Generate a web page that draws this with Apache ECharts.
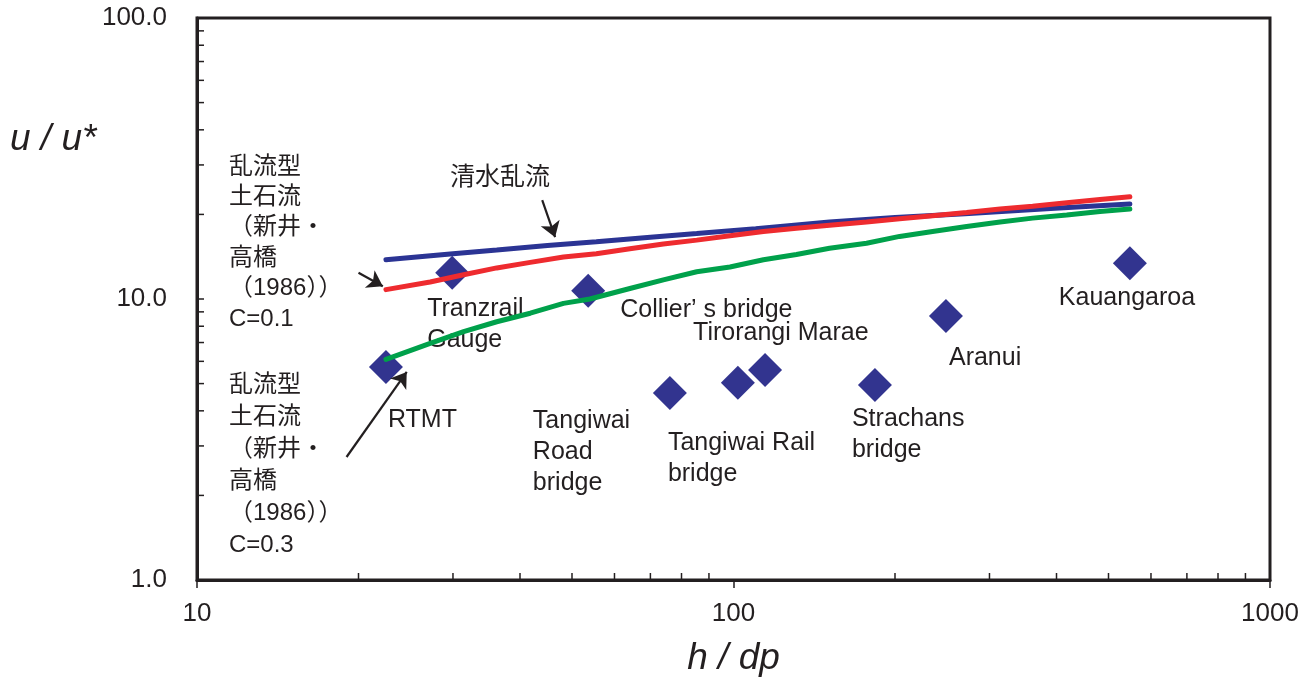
<!DOCTYPE html>
<html>
<head>
<meta charset="utf-8">
<script src="https://cdn.jsdelivr.net/npm/echarts@6/dist/echarts.min.js"></script>
<style>html,body{margin:0;padding:0;background:#fff}#c{width:1312px;height:684px}</style>
</head>
<body>
<div id="c"></div>
<script>
// ---- data ----
const siteNames = ['RTMT', 'Tranzrail\nGauge', 'Collier’s bridge', 'Tangiwai\nRoad\nbridge', 'Tangiwai Rail\nbridge', 'Tirorangi Marae', 'Strachans\nbridge', 'Aranui', 'Kauangaroa'];
const siteHdp = [22.5, 29.9, 53.6, 76.1, 101.9, 114.5, 183.5, 248.9, 548];
const siteUu  = [5.73, 12.4, 10.7, 4.63, 5.03, 5.59, 4.94, 8.70, 13.4];

// 清水乱流
const clearWater = [[22.5,13.8],[30,14.5],[36.2,14.95],[45,15.5],[55.5,16.0],[70,16.6],[85.4,17.1],[110,17.8],[151,18.8],[200,19.5],[270,20.1],[390,21.0],[548,21.8]];
// 乱流型土石流 C=0.1
const debrisC01 = [[22.5,10.8],[27.2,11.5],[31.4,12.2],[36.2,12.9],[41.8,13.5],[48.2,14.1],[55.5,14.5],[64.1,15.1],[74,15.7],[85.4,16.2],[98.5,16.8],[113.7,17.4],[131,17.85],[151,18.3],[177,18.8],[204,19.3],[235,19.8],[272,20.3],[314,20.9],[361,21.4],[418,22.0],[482,22.6],[548,23.1]];
// 乱流型土石流 C=0.3
const debrisC03 = [[22.5,6.1],[27.2,6.95],[31.4,7.65],[36.2,8.3],[41.8,8.9],[48.2,9.65],[54,10.0],[64.1,10.9],[74,11.7],[85.4,12.5],[98.5,13.0],[113.7,13.8],[131,14.4],[151,15.15],[177,15.8],[204,16.7],[235,17.4],[272,18.1],[314,18.8],[361,19.4],[418,19.9],[482,20.5],[548,20.9]];

// annotation arrows (data coordinates: from, to)
const arrowClear = [[44.0,22.5],[46.5,16.6]];
const arrowC01   = [[20.0,12.4],[22.2,11.1]];
const arrowC03   = [[19.0,2.74],[24.6,5.5]];

// ticks
const xMinorTicks = [20,30,40,50,60,70,80,90,200,300,400,500,600,700,800,900];
const yMinorTicks = [2,3,4,5,6,7,8,9,20,30,40,50,60,70,80,90];

const textBlockC01 = '乱流型\n土石流\n（新井・\n高橋\n（1986））\nC=0.1';
const textBlockC03 = '乱流型\n土石流\n（新井・\n高橋\n（1986））\nC=0.3';
const textClear = '清水乱流';

// ---- layout (label offsets relative to symbol center) ----
const labelOffsets = [[2,53],[-25,52],[32,19],[-137,59],[-70,76],[-72,-37],[-23,50],[3,42],[-71,35]];

const INK = '#231f20';
const FONT = "'Liberation Sans', Arial, 'Noto Sans CJK JP', sans-serif";
const JFONT = "'Liberation Sans', Arial, 'Noto Sans CJK JP', sans-serif";

const chart = echarts.init(document.getElementById('c'), null, {renderer: 'canvas'});

const scatterData = siteNames.map((n, i) => ({
  name: n,
  value: [siteHdp[i], siteUu[i]],
  label: { offset: labelOffsets[i] }
}));

const arrowLine = (a) => [{coord: a[0]}, {coord: a[1]}];

const option = {
  animation: false,
  backgroundColor: '#ffffff',
  grid: { left: 197, right: 42, top: 18, bottom: 104, show: true, borderColor: INK, borderWidth: 3, containLabel: false },
  xAxis: {
    type: 'log', logBase: 10, min: 10, max: 1000,
    name: 'h / dp', nameLocation: 'middle', nameGap: 60,
    nameTextStyle: { fontFamily: FONT, fontStyle: 'italic', fontSize: 37, color: INK },
    axisLine: { show: true, lineStyle: { color: INK, width: 3 } },
    axisTick: { show: true, inside: false, length: 8, lineStyle: { color: INK, width: 1.5 } },
    axisLabel: { fontFamily: FONT, fontSize: 26, color: INK, margin: 21, formatter: v => String(Math.round(v)) },
    splitLine: { show: false },
    minorTick: { show: false }
  },
  yAxis: {
    type: 'log', logBase: 10, min: 1, max: 100,
    axisLine: { show: true, lineStyle: { color: INK, width: 3 } },
    axisTick: { show: true, inside: true, length: 7, lineStyle: { color: INK, width: 1.5 } },
    axisLabel: { fontFamily: FONT, fontSize: 26, color: INK, margin: 30, formatter: v => Number(v).toFixed(1) },
    splitLine: { show: false },
    minorTick: { show: false }
  },
  graphic: [
    { type: 'text', left: 10, top: 121, style: { text: 'u / u*', font: "italic 37px 'Liberation Sans', Arial, sans-serif", fill: INK } },
    { type: 'text', x: 229, y: 243, style: { text: textBlockC01, fontFamily: JFONT, fontSize: 24, lineHeight: 30.4, fill: INK, verticalAlign: 'middle', align: 'left' } },
    { type: 'text', x: 229, y: 465, style: { text: textBlockC03, fontFamily: JFONT, fontSize: 24, lineHeight: 32, fill: INK, verticalAlign: 'middle', align: 'left' } },
    { type: 'text', x: 450, y: 178, style: { text: textClear, fontFamily: JFONT, fontSize: 25, fill: INK, verticalAlign: 'middle', align: 'left' } }
  ],
  series: [
    {
      type: 'custom', coordinateSystem: 'cartesian2d', silent: true, z: 4, clip: false,
      data: xMinorTicks.map(v => [v, 1, 0]).concat(yMinorTicks.map(v => [10, v, 1])),
      encode: { x: 0, y: 1 },
      renderItem: (params, api) => {
        const p = api.coord([api.value(0), api.value(1)]);
        const horiz = api.value(2) === 1;
        return {
          type: 'line',
          shape: horiz ? { x1: p[0], y1: p[1], x2: p[0] + 7, y2: p[1] } : { x1: p[0], y1: p[1], x2: p[0], y2: p[1] - 7 },
          style: { stroke: INK, lineWidth: 1.5 }
        };
      }
    },
    {
      type: 'scatter', name: 'sites', symbol: 'diamond', symbolSize: 34, z: 2,
      itemStyle: { color: '#32348f', opacity: 1 },
      emphasis: { disabled: true },
      data: scatterData,
      label: {
        show: true, position: 'inside', align: 'left', verticalAlign: 'middle', opacity: 1,
        fontFamily: FONT, fontSize: 25, lineHeight: 31, color: INK,
        formatter: p => p.name.replace('’', '{q|’ }'),
        rich: { q: { fontFamily: FONT, fontSize: 25, color: INK, opacity: 1 } }
      }
    },
    {
      type: 'line', name: '清水乱流', data: clearWater, showSymbol: false, symbol: 'none', smooth: false, z: 3,
      lineStyle: { color: '#2b3494', width: 5, cap: 'round' },
      markLine: {
        silent: true, symbol: ['none', 'arrow'], symbolSize: 15, label: { show: false },
        lineStyle: { color: INK, width: 2.2, type: 'solid', opacity: 1 },
        data: [arrowLine(arrowClear), arrowLine(arrowC01), arrowLine(arrowC03)]
      }
    },
    {
      type: 'line', name: 'C=0.3', data: debrisC03, showSymbol: false, symbol: 'none', z: 3,
      lineStyle: { color: '#00a14b', width: 5, cap: 'round' }
    },
    {
      type: 'line', name: 'C=0.1', data: debrisC01, showSymbol: false, symbol: 'none', z: 3,
      lineStyle: { color: '#ee2b2f', width: 5, cap: 'round' }
    }
  ]
};
chart.setOption(option);
</script>
</body>
</html>
